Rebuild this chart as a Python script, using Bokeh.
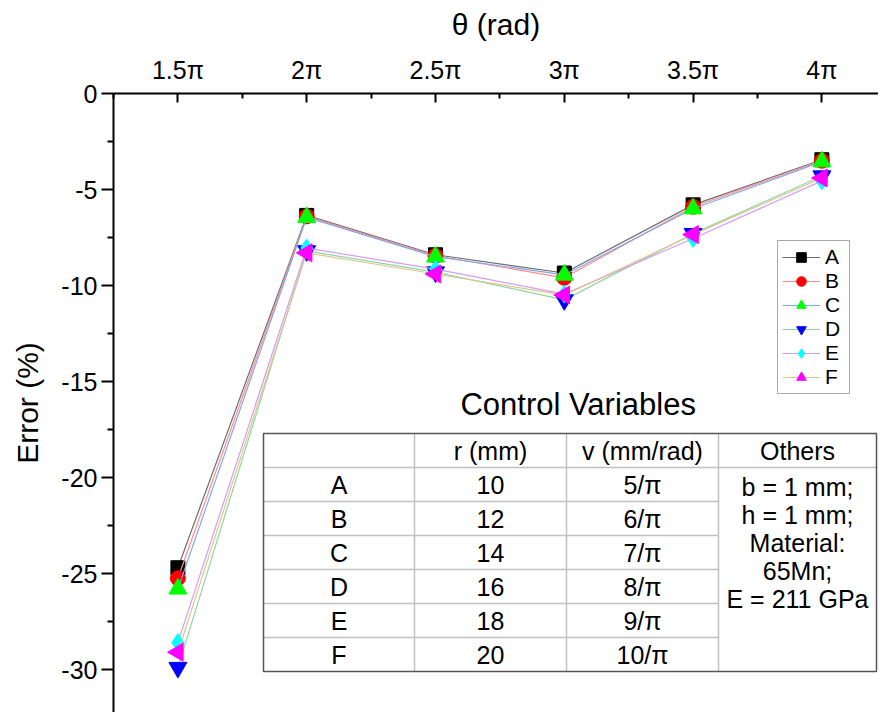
from bokeh.plotting import figure
from bokeh.models import Range1d, FixedTicker, Label, Legend, LegendItem
from bokeh.embed import file_html
from bokeh.resources import INLINE
import math

# ---------------- data ----------------
theta = [1.5, 2.0, 2.5, 3.0, 3.5, 4.0]          # in units of pi
theta_labels = ["1.5π", "2π", "2.5π", "3π", "3.5π", "4π"]
err_ticks = [0, -5, -10, -15, -20, -25, -30]
err_tick_labels = ["0", "-5", "-10", "-15", "-20", "-25", "-30"]
err_A = [-24.7, -6.35, -8.40, -9.35, -5.80, -3.45]
err_B = [-25.25, -6.40, -8.45, -9.60, -5.90, -3.50]
err_C = [-25.80, -6.45, -8.50, -9.45, -6.00, -3.55]
err_D = [-29.90, -8.20, -9.30, -10.75, -7.30, -4.30]
err_E = [-28.60, -8.05, -9.15, -10.45, -7.55, -4.55]
err_F = [-29.10, -8.30, -9.40, -10.50, -7.35, -4.40]
series_names = ["A", "B", "C", "D", "E", "F"]

table_header = ["", "r (mm)", "v (mm/rad)", "Others"]
table_rows = ["A", "B", "C", "D", "E", "F"]
table_r = ["10", "12", "14", "16", "18", "20"]
table_v = ["5/π", "6/π", "7/π", "8/π", "9/π", "10/π"]
table_others = ["b = 1 mm;", "h = 1 mm;", "Material:", "65Mn;", "E = 211 GPa"]

# ---------------- layout ----------------
W, H = 878, 712
BL, BT = 113, 93
X0, PXPI = 1.25, 257.6
Y0, PXU = 0.0, 19.2
frame_w, frame_h = W - BL, H - BT
X1 = X0 + frame_w / PXPI
Y1 = Y0 - frame_h / PXU

FONT = "Liberation Sans"

p = figure(width=W, height=H, output_backend="svg", toolbar_location=None,
           x_axis_location="above", x_range=Range1d(X0, X1), y_range=Range1d(Y1, Y0),
           min_border_left=BL, min_border_top=BT, min_border_right=0, min_border_bottom=0)
p.outline_line_color = None
p.grid.visible = False
p.background_fill_color = "white"

# picture-pixel -> data helpers
def tx(px):
    return X0 + (px - BL) / PXPI

def ty(py):
    return Y0 - (py - BT) / PXU

xa = p.xaxis[0]
xa.ticker = FixedTicker(ticks=theta, minor_ticks=[1.25, 1.75, 2.25, 2.75, 3.25, 3.75, 4.25])
xa.major_label_overrides = {t: l for t, l in zip(theta, theta_labels)}
xa.major_tick_in = 9
xa.major_tick_out = 0
xa.minor_tick_in = 5
xa.minor_tick_out = 0
xa.axis_line_width = 2
xa.major_tick_line_width = 2
xa.minor_tick_line_width = 2
xa.major_label_text_font = FONT
xa.major_label_text_font_size = "25px"
xa.major_label_text_color = "black"
xa.major_label_standoff = 10
xa.axis_label = "θ (rad)"
xa.axis_label_text_font = FONT
xa.axis_label_text_font_style = "normal"
xa.axis_label_text_font_size = "30px"
xa.axis_label_text_color = "black"
xa.axis_label_standoff = 12

ya = p.yaxis[0]
ya.ticker = FixedTicker(ticks=err_ticks,
                        minor_ticks=[-2.5, -7.5, -12.5, -17.5, -22.5, -27.5, -32.5])
ya.major_label_overrides = {t: l for t, l in zip(err_ticks, err_tick_labels)}
ya.major_tick_in = 0
ya.major_tick_out = 12
ya.minor_tick_in = 0
ya.minor_tick_out = 6
ya.axis_line_width = 2
ya.major_tick_line_width = 2
ya.minor_tick_line_width = 2
ya.major_label_text_font = FONT
ya.major_label_text_font_size = "25px"
ya.major_label_text_color = "black"
ya.major_label_standoff = 4
ya.axis_label = "Error (%)"
ya.axis_label_text_font = FONT
ya.axis_label_text_font_style = "normal"
ya.axis_label_text_font_size = "30px"
ya.axis_label_text_color = "black"
ya.axis_label_standoff = 14

# ---------------- series ----------------
series = [err_A, err_B, err_C, err_D, err_E, err_F]
line_colors = ["#6e6e6e", "#ff8c8c", "#82a8ec", "#90d4a4", "#d39cf2", "#dcc88e"]
fill_colors = ["#000000", "#ff0000", "#00ff00", "#0000ff", "#00ffff", "#ff00ff"]
markers = ["square", "circle", "triangle", "inverted_triangle", "diamond", "triangle"]
sizes = [14, 15, 18, 18, 18, 18]
angles = [0, 0, 0, 0, 0, math.pi / 2]

items = []
for name, ys, lc, fc, mk, sz, ang in zip(series_names, series, line_colors, fill_colors,
                                          markers, sizes, angles):
    lr = p.line(theta, ys, line_color=lc, line_width=1.2)
    sr = p.scatter(theta, ys, marker=mk, size=sz, angle=ang, fill_color=fc,
                   line_color=fc, line_width=1)
    items.append(LegendItem(label=name, renderers=[lr, sr]))

legend = Legend(items=items, location=(664, H - 394), orientation="vertical")
legend.label_text_font = FONT
legend.label_text_font_size = "21px"
legend.label_text_color = "black"
legend.glyph_width = 38
legend.glyph_height = 24
legend.label_height = 24
legend.spacing = 0
legend.padding = 4
legend.margin = 0
legend.label_standoff = 5
legend.border_line_color = "#555555"
legend.border_line_width = 1
legend.background_fill_alpha = 1
p.add_layout(legend, "center")

# ---------------- control-variable table ----------------
T_L, T_R, T_T, T_B = 263, 876, 433, 671
ROW_H = (T_B - T_T) / 7.0
col_x = [T_L, 414, 566, 718, T_R]
TFS = "25px"

p.add_layout(Label(x=tx(582), y=ty(404), text="Control  Variables", text_font=FONT,
                   text_font_size="31px", text_align="center", text_baseline="middle",
                   text_color="black"))

# inner horizontal lines
hx0, hx1, hy = [], [], []
for i in range(1, 7):
    yy = T_T + i * ROW_H
    hx0.append(tx(T_L))
    hx1.append(tx(col_x[3]) if i > 1 else tx(T_R))
    hy.append(ty(yy))
p.segment(x0=hx0, y0=hy, x1=hx1, y1=hy, line_color="#c0c0c0", line_width=1.5)
# inner vertical lines
vx = [tx(c) for c in col_x[1:4]]
p.segment(x0=vx, y0=[ty(T_T)] * 3, x1=vx, y1=[ty(T_B)] * 3, line_color="#c0c0c0",
          line_width=1.5)
# outer border
p.quad(left=tx(T_L), right=tx(T_R), top=ty(T_T), bottom=ty(T_B), fill_color=None,
       line_color="#555555", line_width=1.5)

centers = [(col_x[i] + col_x[i + 1]) / 2 for i in range(4)]
for j, h in enumerate(table_header):
    if h:
        p.add_layout(Label(x=tx(centers[j]), y=ty(T_T + ROW_H / 2), text=h, text_font=FONT,
                           text_font_size=TFS, text_align="center",
                           text_baseline="middle", text_color="black"))
for i in range(6):
    yy = ty(T_T + (i + 1.5) * ROW_H)
    for j, txt in enumerate([table_rows[i], table_r[i], table_v[i]]):
        p.add_layout(Label(x=tx(centers[j]), y=yy, text=txt, text_font=FONT,
                           text_font_size=TFS, text_align="center",
                           text_baseline="middle", text_color="black"))
for k, txt in enumerate(table_others):
    p.add_layout(Label(x=tx(centers[3]), y=ty(486 + k * 28.2), text=txt, text_font=FONT,
                       text_font_size=TFS, text_align="center", text_baseline="middle",
                       text_color="black"))

open("out.html", "w").write(file_html(p, INLINE))
